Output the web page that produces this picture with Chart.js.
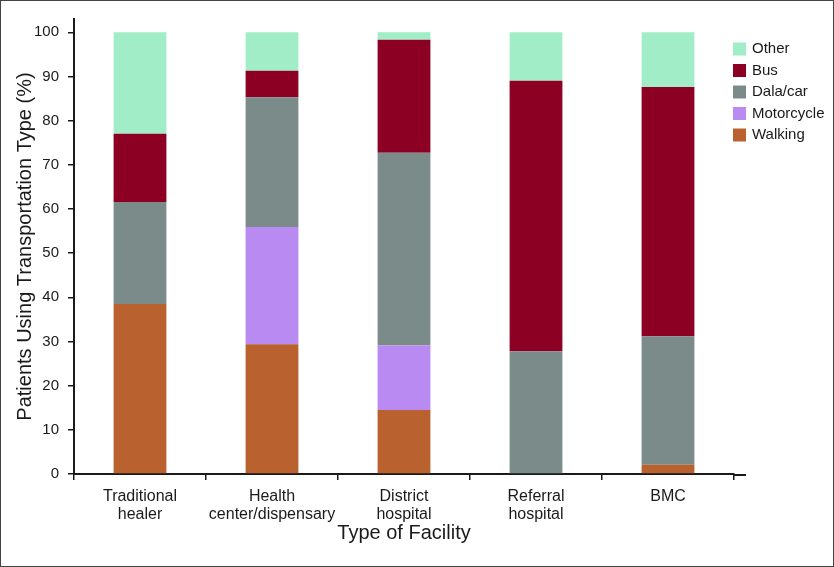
<!DOCTYPE html>
<html>
<head>
<meta charset="utf-8">
<script src="https://cdn.jsdelivr.net/npm/chart.js@4/dist/chart.umd.min.js"></script>
<style>
  html, body { margin: 0; padding: 0; background: #fff; }
  #frame { width: 834px; height: 567px; box-sizing: border-box; border: 1px solid #444; }
  canvas { display: block; }
</style>
</head>
<body>
<div id="frame"><canvas id="transport-chart" width="832" height="565"></canvas></div>
<script>
// Transportation type by facility (stacked %)
var facilities = [['Traditional', 'healer'], ['Health', 'center/dispensary'], ['District', 'hospital'], ['Referral', 'hospital'], 'BMC'];
var walking    = [38.5, 29.4, 14.5, 0, 2.1];
var motorcycle = [0, 26.5, 14.6, 0, 0];
var dalaCar    = [23.1, 29.4, 43.6, 27.8, 29.1];
var bus        = [15.4, 6.0, 25.6, 61.2, 56.4];
var other      = [23.0, 8.7, 1.7, 11.0, 12.4];
var yTicks     = [0, 10, 20, 30, 40, 50, 60, 70, 80, 90, 100];

Chart.defaults.font.family = "'Liberation Sans', Arial, sans-serif";
Chart.defaults.color = '#1a1a1a';

// legend drawn by hand so it can sit where the original has it
var sideLegend = {
  id: 'sideLegend',
  afterDraw: function(chart) {
    var ctx = chart.ctx;
    var sets = chart.data.datasets.slice().reverse();
    ctx.save();
    ctx.font = '15px ' + Chart.defaults.font.family;
    ctx.textBaseline = 'middle';
    ctx.textAlign = 'left';
    sets.forEach(function(ds, i) {
      var cy = 48 + i * 21.5;
      ctx.fillStyle = ds.backgroundColor;
      ctx.fillRect(732, cy - 6.5, 13, 13);
      ctx.fillStyle = '#1a1a1a';
      ctx.fillText(ds.label, 751, cy);
    });
    // x axis line runs a little past the last tick
    var a = chart.chartArea;
    ctx.strokeStyle = '#1a1a1a';
    ctx.lineWidth = 2;
    ctx.beginPath();
    ctx.moveTo(a.right - 1, a.bottom + 1);
    ctx.lineTo(a.right + 12, a.bottom + 1);
    ctx.stroke();
    ctx.restore();
  }
};

var ctx = document.getElementById('transport-chart').getContext('2d');
var myChart = new Chart(ctx, {
  type: 'bar',
  data: {
    labels: facilities,
    datasets: [
      { label: 'Walking', data: walking, backgroundColor: '#b9612f' },
      { label: 'Motorcycle', data: motorcycle, backgroundColor: '#b98af2' },
      { label: 'Dala/car', data: dalaCar, backgroundColor: '#7b8b89' },
      { label: 'Bus', data: bus, backgroundColor: '#8b0023' },
      { label: 'Other', data: other, backgroundColor: '#a0edc8' }
    ]
  },
  options: {
    responsive: false,
    animation: false,
    layout: { padding: { top: 18, right: 99, left: 0, bottom: 0 } },
    datasets: { bar: { barPercentage: 0.4, categoryPercentage: 1, borderWidth: 0 } },
    plugins: {
      legend: { display: false },
      tooltip: { enabled: false }
    },
    scales: {
      x: {
        stacked: true,
        grid: { drawOnChartArea: false, drawTicks: true, tickLength: 6, color: '#1a1a1a', lineWidth: 1.5 },
        border: { display: true, color: '#1a1a1a', width: 2 },
        ticks: { font: { size: 16, lineHeight: 1.15 }, padding: 7, maxRotation: 0, autoSkip: false },
        title: { display: true, text: 'Type of Facility', font: { size: 20 }, padding: { top: 0, bottom: 21 } },
        afterFit: function(s) { s.height = 92; }
      },
      y: {
        stacked: true,
        min: 0,
        max: 103,
        afterBuildTicks: function(s) {
          s.ticks = yTicks.map(function(v) { return { value: v }; });
        },
        grid: { drawOnChartArea: false, drawTicks: true, tickLength: 6, color: '#1a1a1a', lineWidth: 1.5 },
        border: { display: true, color: '#1a1a1a', width: 2 },
        ticks: { font: { size: 15 }, padding: 9 },
        title: { display: true, text: 'Patients Using Transportation Type (%)', font: { size: 20 }, padding: { top: 12, bottom: 0 } },
        afterFit: function(s) { s.width = 73; }
      }
    }
  },
  plugins: [sideLegend]
});
</script>
</body>
</html>
